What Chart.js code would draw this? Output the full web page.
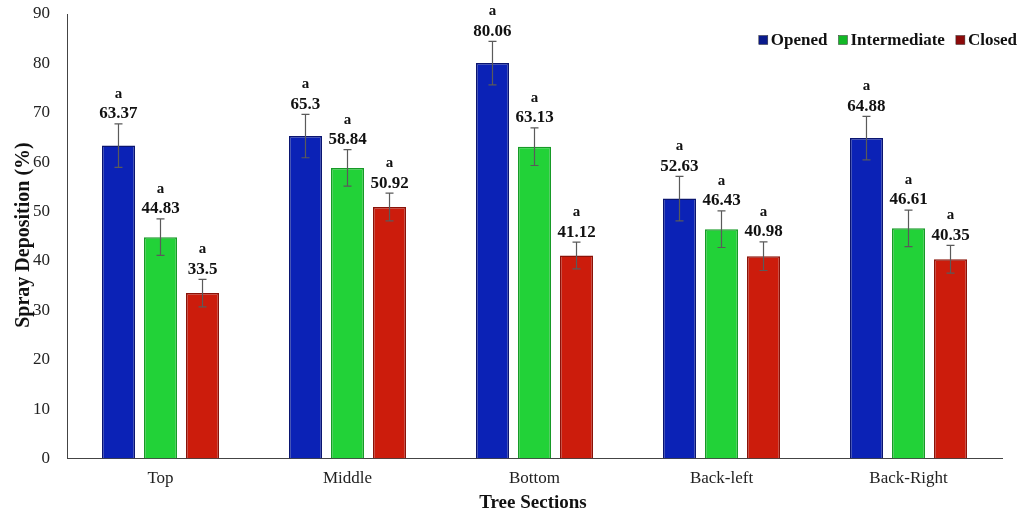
<!DOCTYPE html>
<html>
<head>
<meta charset="utf-8">
<script src="https://cdn.jsdelivr.net/npm/chart.js@4/dist/chart.umd.min.js"></script>
<style>
  html, body { margin: 0; padding: 0; background: #fff; }
  #wrap { width: 1020px; height: 516px; position: relative; }
</style>
</head>
<body>
<div id="wrap"><canvas id="c" width="1020" height="516"></canvas></div>
<script>
// Tree sections on the x axis
const sections = ["Top", "Middle", "Bottom", "Back-left", "Back-Right"];

// Mean spray deposition (%) for each canopy condition
const opened = [63.37, 65.3, 80.06, 52.63, 64.88];
const intermediate = [44.83, 58.84, 63.13, 46.43, 46.61];
const closed = [33.5, 50.92, 41.12, 40.98, 40.35];

// Error bar half-lengths (%)
const openedErr = [4.4, 4.4, 4.4, 4.5, 4.4];
const intermediateErr = [3.7, 3.7, 3.8, 3.7, 3.7];
const closedErr = [2.8, 2.8, 2.7, 2.9, 2.8];

// Significance letters
const openedSig = ["a", "a", "a", "a", "a"];
const intermediateSig = ["a", "a", "a", "a", "a"];
const closedSig = ["a", "a", "a", "a", "a"];

const yTicks = [0, 10, 20, 30, 40, 50, 60, 70, 80, 90];

const SERIF = "'Liberation Serif', 'Times New Roman', serif";

const errs = [openedErr, intermediateErr, closedErr];
const sigs = [openedSig, intermediateSig, closedSig];
const legendFill = ["#0a1a8c", "#12b826", "#8c0a0a"];

// Error bars, value labels and significance letters above each bar
const annotate = {
  id: "annotate",
  afterDatasetsDraw(chart) {
    const ctx = chart.ctx;
    const y = chart.scales.y;
    chart.data.datasets.forEach((ds, di) => {
      const meta = chart.getDatasetMeta(di);
      meta.data.forEach((bar, i) => {
        const v = ds.data[i];
        const e = errs[di][i];
        const x = bar.x;
        const yt = y.getPixelForValue(v + e);
        const yb = y.getPixelForValue(v - e);
        ctx.save();
        ctx.strokeStyle = "#5a5a5a";
        ctx.lineWidth = 1.2;
        ctx.beginPath();
        ctx.moveTo(x, yt); ctx.lineTo(x, yb);
        ctx.moveTo(x - 4, yt); ctx.lineTo(x + 4, yt);
        ctx.moveTo(x - 4, yb); ctx.lineTo(x + 4, yb);
        ctx.stroke();
        ctx.fillStyle = "#111";
        ctx.textAlign = "center";
        ctx.textBaseline = "middle";
        ctx.font = "bold 17px " + SERIF;
        ctx.fillText(String(v), x, yt - 10);
        ctx.font = "bold 15px " + SERIF;
        ctx.fillText(sigs[di][i], x, yt - 30);
        ctx.restore();
      });
    });
  },
  afterDraw(chart) {
    const ctx = chart.ctx;
    ctx.save();
    ctx.fillStyle = "#111";
    // Axis titles
    ctx.font = "bold 19px " + SERIF;
    ctx.textAlign = "center";
    ctx.textBaseline = "middle";
    ctx.fillText("Tree Sections", 533, 503);
    ctx.save();
    ctx.translate(29, 235);
    ctx.rotate(-Math.PI / 2);
    ctx.font = "bold 20px " + SERIF;
    ctx.textBaseline = "alphabetic";
    ctx.fillText("Spray Deposition (%)", 0, 0);
    ctx.restore();
    // Legend, right-aligned in the top corner
    ctx.font = "bold 17px " + SERIF;
    ctx.textAlign = "left";
    const box = 9, gapBox = 3, gapItem = 11;
    const labels = chart.data.datasets.map(d => d.label);
    const widths = labels.map(t => box + gapBox + ctx.measureText(t).width);
    let x = 1017 - widths.reduce((a, b) => a + b, 0) - gapItem * (labels.length - 1);
    const cy = 40;
    labels.forEach((t, i) => {
      ctx.fillStyle = legendFill[i];
      ctx.fillRect(x, cy - box / 2, box, box);
      ctx.strokeStyle = "#333";
      ctx.lineWidth = 0.5;
      ctx.strokeRect(x, cy - box / 2, box, box);
      ctx.fillStyle = "#111";
      ctx.fillText(t, x + box + gapBox, cy + 1);
      x += widths[i] + gapItem;
    });
    ctx.restore();
  }
};

new Chart(document.getElementById("c"), {
  type: "bar",
  data: {
    labels: sections,
    datasets: [
      { label: "Opened", data: opened, backgroundColor: "#0b22b6", borderColor: "#0a1570", borderWidth: 1.5 },
      { label: "Intermediate", data: intermediate, backgroundColor: "#22d238", borderColor: "#169a26", borderWidth: 1.5 },
      { label: "Closed", data: closed, backgroundColor: "#cc1c0c", borderColor: "#8a1208", borderWidth: 1.5 }
    ]
  },
  options: {
    responsive: false,
    animation: false,
    devicePixelRatio: 1,
    datasets: { bar: { categoryPercentage: 0.674, barPercentage: 0.786 } },
    layout: { autoPadding: false, padding: { top: 0, right: 18, left: 16, bottom: 17 } },
    plugins: {
      tooltip: { enabled: false },
      legend: { display: false }
    },
    scales: {
      x: {
        grid: { display: false, drawTicks: false },
        border: { display: true, color: "#444", width: 1 },
        ticks: { font: { family: SERIF, size: 17 }, color: "#222", padding: 10 }
      },
      y: {
        min: 0,
        max: 90,
        afterBuildTicks(scale) { scale.ticks = yTicks.map(v => ({ value: v })); },
        afterFit(scale) { scale.paddingTop = 14; },
        grid: { display: false, drawTicks: false },
        border: { display: true, color: "#444", width: 1 },
        ticks: { font: { family: SERIF, size: 17 }, color: "#222", padding: 17 }
      }
    }
  },
  plugins: [annotate]
});
</script>
</body>
</html>
